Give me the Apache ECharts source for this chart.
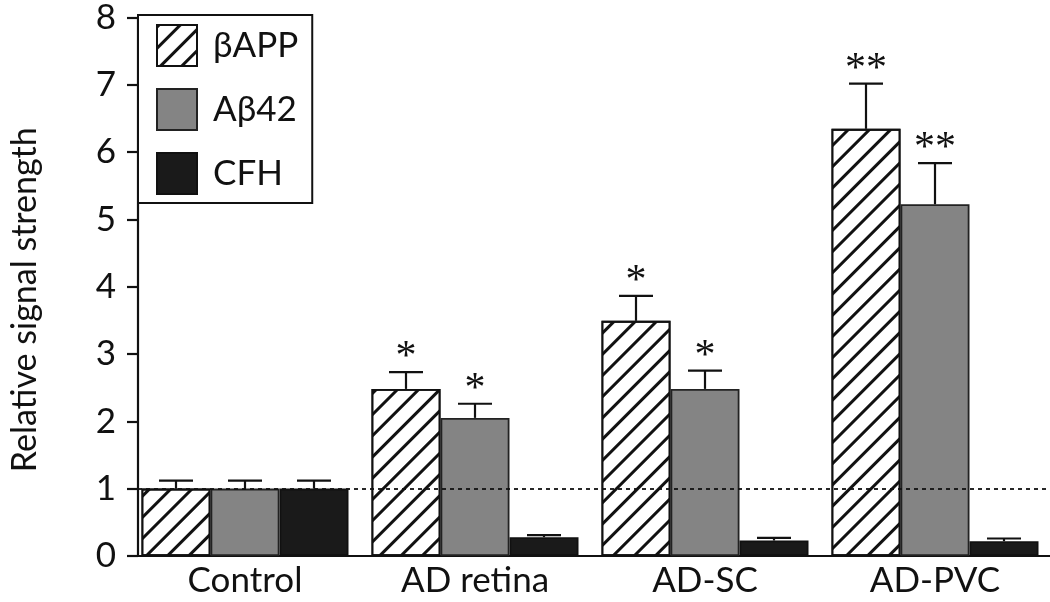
<!DOCTYPE html>
<html>
<head>
<meta charset="utf-8">
<script src="https://cdn.jsdelivr.net/npm/echarts@6/dist/echarts.min.js"></script>
<style>html,body{margin:0;padding:0;background:#fff;}#c{width:1050px;height:602px;}</style>
</head>
<body>
<div id="c"></div>
<script>
const categories = ['Control', 'AD retina', 'AD-SC', 'AD-PVC'];
const seriesNames = ['\u03B2APP', 'A\u03B242', 'CFH'];
const bappValues = [1.0, 2.48, 3.49, 6.34];
const bappErrTop = [1.12, 2.73, 3.86, 7.01];
const bappSig = ['', '*', '*', '**'];
const abetaValues = [1.0, 2.05, 2.48, 5.22];
const abetaErrTop = [1.12, 2.26, 2.75, 5.83];
const abetaSig = ['', '*', '*', '**'];
const cfhValues = [1.0, 0.28, 0.23, 0.22];
const cfhErrTop = [1.12, 0.31, 0.27, 0.26];
const cfhSig = ['', '', '', ''];
const yTicks = [0, 1, 2, 3, 4, 5, 6, 7, 8];
const referenceLevel = 1;

const FONT = 'Lato';
const BAR_W = 69;
const CAP_HALF = 17;

const valuesList = [bappValues, abetaValues, cfhValues];
const errList = [bappErrTop, abetaErrTop, cfhErrTop];
const sigList = [bappSig, abetaSig, cfhSig];

const styles = [
  { color: '#ffffff', borderColor: '#111', borderWidth: 1.8,
    decal: { symbol: 'rect', symbolSize: 1, color: '#111', backgroundColor: null,
             dashArrayX: [1, 0], dashArrayY: [2.6, 11.6], rotation: -Math.PI / 4 } },
  { color: '#848484', borderColor: '#222', borderWidth: 1.8 },
  { color: '#1a1a1a', borderColor: '#111', borderWidth: 1.8 }
];

const series = [];
for (let k = 0; k < 3; k++) {
  series.push({
    name: seriesNames[k], type: 'bar', xAxisIndex: 0, yAxisIndex: 0,
    barWidth: BAR_W, barGap: '0%', data: valuesList[k],
    itemStyle: styles[k], z: 2
  });
}
for (let k = 0; k < 3; k++) {
  const data = categories.map((c, i) => [i, valuesList[k][i], errList[k][i], sigList[k][i]]);
  series.push({
    type: 'custom', xAxisIndex: 0, yAxisIndex: 0, z: 4, silent: true,
    data: data,
    renderItem: function (params, api) {
      const i = api.value(0);
      const base = api.coord([i, api.value(1)]);
      const top = api.coord([i, api.value(2)]);
      const cx = base[0] + (k - 1) * BAR_W;
      const sig = data[params.dataIndex][3];
      const children = [
        { type: 'line', shape: { x1: cx, y1: base[1], x2: cx, y2: top[1] }, style: { stroke: '#111', lineWidth: 2.2 } },
        { type: 'line', shape: { x1: cx - CAP_HALF, y1: top[1], x2: cx + CAP_HALF, y2: top[1] }, style: { stroke: '#111', lineWidth: 2.2 } }
      ];
      if (sig) {
        children.push({ type: 'text', style: { text: sig, x: cx, y: top[1] + 7, align: 'center', verticalAlign: 'bottom',
          font: '42px "Liberation Serif", "DejaVu Serif", serif', fill: '#111' } });
      }
      return { type: 'group', children: children };
    }
  });
}
series.push({
  type: 'line', xAxisIndex: 1, yAxisIndex: 1, data: [], silent: true, z: 6,
  markLine: { silent: true, symbol: ['none', 'none'], label: { show: false },
    lineStyle: { type: [4, 4], color: '#111', width: 1.8 },
    data: [{ yAxis: referenceLevel }] }
});

const chart = echarts.init(document.getElementById('c'), null, { renderer: 'canvas' });
chart.setOption({
  animation: false,
  backgroundColor: '#fff',
  textStyle: { fontFamily: FONT },
  grid: [
    { left: 130, right: 0, top: 17, bottom: 46 },
    { left: 108, right: 0, top: 17, bottom: 46 }
  ],
  legend: {
    data: seriesNames.map(n => ({ name: n, icon: 'rect' })), orient: 'vertical', left: 138, top: 15,
    backgroundColor: '#fff', borderColor: '#111', borderWidth: 2,
    padding: [9, 14, 8, 18], itemWidth: 40, itemHeight: 41, itemGap: 21,
    textStyle: { fontSize: 35, fontFamily: FONT, color: '#111', padding: [0, 0, 0, 11] },
    selectedMode: false
  },
  xAxis: [
    { type: 'category', gridIndex: 0, data: categories,
      axisLine: { show: false }, axisTick: { show: false },
      axisLabel: { fontSize: 35, color: '#111', margin: 7, fontFamily: FONT } },
    { type: 'value', gridIndex: 1, min: 0, max: 1, show: true,
      axisLine: { show: true, lineStyle: { color: '#111', width: 2.2 } },
      axisTick: { show: false }, axisLabel: { show: false }, splitLine: { show: false } }
  ],
  yAxis: [
    { type: 'value', gridIndex: 0, min: 0, max: 8, show: false },
    { type: 'value', gridIndex: 1, min: yTicks[0], max: yTicks[yTicks.length - 1], interval: 1,
      name: 'Relative signal strength', nameLocation: 'middle', nameGap: 96,
      nameTextStyle: { fontSize: 34, color: '#111', fontFamily: FONT, padding: [0, 26, 0, 0] },
      axisLine: { show: true, lineStyle: { color: '#111', width: 2.2 } },
      axisTick: { show: true, length: 11, lineStyle: { color: '#111', width: 2.2 } },
      axisLabel: { fontSize: 35, color: '#111', margin: 22, fontFamily: FONT },
      splitLine: { show: false } }
  ],
  series: series
});
</script>
</body>
</html>
